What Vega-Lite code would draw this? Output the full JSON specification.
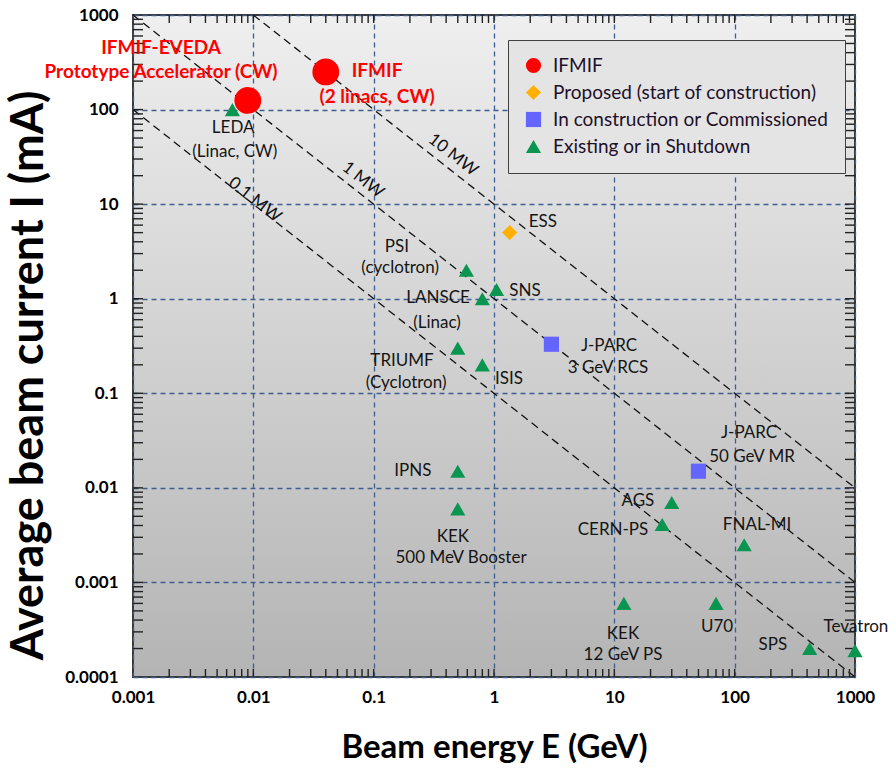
{
  "$schema": "https://vega.github.io/schema/vega-lite/v6.json",
  "width": 722,
  "height": 662,
  "autosize": {"type": "none"},
  "padding": {"left": 133, "top": 15, "right": 41, "bottom": 97},
  "background": "white",
  "config": {
    "font": "Lato",
    "view": {
      "fill": {"gradient": "linear", "x1": 0, "y1": 0, "x2": 0, "y2": 1,
        "stops": [{"offset": 0, "color": "#efefef"}, {"offset": 1, "color": "#b4b4b4"}]},
      "stroke": "#3a3a3a",
      "strokeWidth": 2
    }
  },
  "datasets": {
    "power": [
      {"P": "0.1 MW", "E": 0.001, "I": 100}, {"P": "0.1 MW", "E": 1000, "I": 0.0001},
      {"P": "1 MW", "E": 0.001, "I": 1000}, {"P": "1 MW", "E": 1000, "I": 0.001},
      {"P": "10 MW", "E": 0.01, "I": 1000}, {"P": "10 MW", "E": 1000, "I": 0.01}
    ],
    "xticks": [
      {"E": 0.002}, {"E": 0.003}, {"E": 0.004}, {"E": 0.005}, {"E": 0.006}, {"E": 0.007}, {"E": 0.008}, {"E": 0.009},
      {"E": 0.02}, {"E": 0.03}, {"E": 0.04}, {"E": 0.05}, {"E": 0.06}, {"E": 0.07}, {"E": 0.08}, {"E": 0.09},
      {"E": 0.2}, {"E": 0.3}, {"E": 0.4}, {"E": 0.5}, {"E": 0.6}, {"E": 0.7}, {"E": 0.8}, {"E": 0.9},
      {"E": 2}, {"E": 3}, {"E": 4}, {"E": 5}, {"E": 6}, {"E": 7}, {"E": 8}, {"E": 9},
      {"E": 20}, {"E": 30}, {"E": 40}, {"E": 50}, {"E": 60}, {"E": 70}, {"E": 80}, {"E": 90},
      {"E": 200}, {"E": 300}, {"E": 400}, {"E": 500}, {"E": 600}, {"E": 700}, {"E": 800}, {"E": 900},
      {"E": 0.01}, {"E": 0.1}, {"E": 1}, {"E": 10}, {"E": 100}
    ],
    "yticks": [
      {"I": 0.0002}, {"I": 0.0003}, {"I": 0.0004}, {"I": 0.0005}, {"I": 0.0006}, {"I": 0.0007}, {"I": 0.0008}, {"I": 0.0009},
      {"I": 0.002}, {"I": 0.003}, {"I": 0.004}, {"I": 0.005}, {"I": 0.006}, {"I": 0.007}, {"I": 0.008}, {"I": 0.009},
      {"I": 0.02}, {"I": 0.03}, {"I": 0.04}, {"I": 0.05}, {"I": 0.06}, {"I": 0.07}, {"I": 0.08}, {"I": 0.09},
      {"I": 0.2}, {"I": 0.3}, {"I": 0.4}, {"I": 0.5}, {"I": 0.6}, {"I": 0.7}, {"I": 0.8}, {"I": 0.9},
      {"I": 2}, {"I": 3}, {"I": 4}, {"I": 5}, {"I": 6}, {"I": 7}, {"I": 8}, {"I": 9},
      {"I": 20}, {"I": 30}, {"I": 40}, {"I": 50}, {"I": 60}, {"I": 70}, {"I": 80}, {"I": 90},
      {"I": 200}, {"I": 300}, {"I": 400}, {"I": 500}, {"I": 600}, {"I": 700}, {"I": 800}, {"I": 900},
      {"I": 0.001}, {"I": 0.01}, {"I": 0.1}, {"I": 1}, {"I": 10}, {"I": 100}
    ],
    "points": [
      {"name": "IFMIF-EVEDA", "cat": "IFMIF", "E": 0.009, "I": 125},
      {"name": "IFMIF", "cat": "IFMIF", "E": 0.04, "I": 250},
      {"name": "ESS", "cat": "Proposed (start of construction)", "E": 1.35, "I": 5},
      {"name": "J-PARC 3 GeV RCS", "cat": "In construction or Commissioned", "E": 3, "I": 0.33},
      {"name": "J-PARC 50 GeV MR", "cat": "In construction or Commissioned", "E": 50, "I": 0.015},
      {"name": "LEDA", "cat": "Existing or in Shutdown", "E": 0.0067, "I": 100},
      {"name": "PSI", "cat": "Existing or in Shutdown", "E": 0.59, "I": 2},
      {"name": "SNS", "cat": "Existing or in Shutdown", "E": 1.05, "I": 1.25},
      {"name": "LANSCE", "cat": "Existing or in Shutdown", "E": 0.8, "I": 1.0},
      {"name": "TRIUMF", "cat": "Existing or in Shutdown", "E": 0.5, "I": 0.3},
      {"name": "ISIS", "cat": "Existing or in Shutdown", "E": 0.8, "I": 0.2},
      {"name": "IPNS", "cat": "Existing or in Shutdown", "E": 0.5, "I": 0.015},
      {"name": "KEK 500 MeV Booster", "cat": "Existing or in Shutdown", "E": 0.5, "I": 0.006},
      {"name": "AGS", "cat": "Existing or in Shutdown", "E": 30, "I": 0.007},
      {"name": "CERN-PS", "cat": "Existing or in Shutdown", "E": 25, "I": 0.0041},
      {"name": "FNAL-MI", "cat": "Existing or in Shutdown", "E": 120, "I": 0.0025},
      {"name": "KEK 12 GeV PS", "cat": "Existing or in Shutdown", "E": 12, "I": 0.0006},
      {"name": "U70", "cat": "Existing or in Shutdown", "E": 70, "I": 0.0006},
      {"name": "SPS", "cat": "Existing or in Shutdown", "E": 420, "I": 0.0002},
      {"name": "Tevatron", "cat": "Existing or in Shutdown", "E": 1000, "I": 0.00019}
    ],
    "labels": [
      {"text": "LEDA", "E": 0.0068, "I": 63.8},
      {"text": "(Linac, CW)", "E": 0.0070, "I": 35.6},
      {"text": "PSI", "E": 0.156, "I": 3.52},
      {"text": "(cyclotron)", "E": 0.166, "I": 2.11},
      {"text": "ESS", "E": 2.55, "I": 6.47},
      {"text": "SNS", "E": 1.81, "I": 1.21},
      {"text": "LANSCE", "E": 0.343, "I": 1.02},
      {"text": "(Linac)", "E": 0.336, "I": 0.553},
      {"text": "J-PARC", "E": 9.03, "I": 0.316},
      {"text": "3 GeV RCS", "E": 8.86, "I": 0.185},
      {"text": "TRIUMF", "E": 0.172, "I": 0.219},
      {"text": "(Cyclotron)", "E": 0.186, "I": 0.1285},
      {"text": "ISIS", "E": 1.33, "I": 0.1416},
      {"text": "IPNS", "E": 0.212, "I": 0.01507},
      {"text": "KEK", "E": 0.456, "I": 0.00302},
      {"text": "500 MeV Booster", "E": 0.532, "I": 0.00181},
      {"text": "J-PARC", "E": 131.6, "I": 0.038},
      {"text": "50 GeV MR", "E": 139.4, "I": 0.0212},
      {"text": "AGS", "E": 15.7, "I": 0.00726},
      {"text": "CERN-PS", "E": 9.75, "I": 0.00358},
      {"text": "FNAL-MI", "E": 153.5, "I": 0.00405},
      {"text": "KEK", "E": 11.8, "I": 0.000285},
      {"text": "12 GeV PS", "E": 11.8, "I": 0.000171},
      {"text": "U70", "E": 71.3, "I": 0.000338},
      {"text": "SPS", "E": 208, "I": 0.000218},
      {"text": "Tevatron", "E": 1019, "I": 0.000338}
    ],
    "redlabels": [
      {"text": "IFMIF-EVEDA", "E": 0.00171, "I": 448},
      {"text": "Prototype Accelerator (CW)", "E": 0.00171, "I": 249},
      {"text": "IFMIF", "E": 0.1067, "I": 256},
      {"text": "(2 linacs, CW)", "E": 0.1067, "I": 136}
    ],
    "powerlabels": [
      {"text": "0.1 MW", "E": 0.0103, "I": 11.1},
      {"text": "1 MW", "E": 0.0815, "I": 18.0},
      {"text": "10 MW", "E": 0.456, "I": 33.1}
    ]
  },
  "layer": [
    {
      "data": {"name": "power"},
      "mark": {"type": "line", "color": "#111111", "strokeWidth": 1.3, "strokeDash": [8, 5]},
      "encoding": {
        "x": {"field": "E", "type": "quantitative",
          "scale": {"type": "log", "domain": [0.001, 1000], "nice": false},
          "axis": {"orient": "bottom", "values": [0.001, 0.01, 0.1, 1, 10, 100, 1000], "format": "~g",
            "grid": true, "gridColor": "#3d5f8f", "gridDash": [5, 4], "gridWidth": 1.3, "gridOpacity": 1,
            "ticks": false, "tickSize": 0, "domain": false,
            "labelFontSize": 17, "labelFontWeight": "bold", "labelColor": "#000000", "labelPadding": 12,
            "labelFlush": false, "labelBound": false, "labelOverlap": false,
            "title": "Beam energy E (GeV)", "titleFontSize": 33, "titleFontWeight": "bold", "titleColor": "#000000",
            "titleY": 80, "titleBaseline": "alphabetic"}},
        "y": {"field": "I", "type": "quantitative",
          "scale": {"type": "log", "domain": [0.0001, 1000], "nice": false},
          "axis": {"orient": "left", "values": [0.0001, 0.001, 0.01, 0.1, 1, 10, 100, 1000], "format": "~g",
            "grid": true, "gridColor": "#3d5f8f", "gridDash": [5, 4], "gridWidth": 1.3, "gridOpacity": 1,
            "ticks": false, "tickSize": 0, "domain": false,
            "labelFontSize": 17, "labelFontWeight": "bold", "labelColor": "#000000", "labelPadding": 15,
            "labelFlush": false, "labelBound": false, "labelOverlap": false,
            "title": "Average beam current I (mA)", "titleFontSize": 45, "titleFontWeight": "bold", "titleColor": "#000000",
            "titleX": -91, "titleY": 360, "titleBaseline": "alphabetic", "titleAngle": -90}},
        "detail": {"field": "P"}
      }
    },
    {
      "data": {"name": "xticks"},
      "mark": {"type": "rule", "color": "#222222", "strokeWidth": 1.4},
      "encoding": {
        "x": {"field": "E", "type": "quantitative"},
        "y": {"datum": 0.0001, "type": "quantitative"},
        "y2": {"datum": 0.0001215}
      }
    },
    {
      "data": {"name": "xticks"},
      "mark": {"type": "rule", "color": "#222222", "strokeWidth": 1.4},
      "encoding": {
        "x": {"field": "E", "type": "quantitative"},
        "y": {"datum": 1000, "type": "quantitative"},
        "y2": {"datum": 823}
      }
    },
    {
      "data": {"name": "yticks"},
      "mark": {"type": "rule", "color": "#222222", "strokeWidth": 1.4},
      "encoding": {
        "y": {"field": "I", "type": "quantitative"},
        "x": {"datum": 0.001, "type": "quantitative"},
        "x2": {"datum": 0.001211}
      }
    },
    {
      "data": {"name": "yticks"},
      "mark": {"type": "rule", "color": "#222222", "strokeWidth": 1.4},
      "encoding": {
        "y": {"field": "I", "type": "quantitative"},
        "x": {"datum": 1000, "type": "quantitative"},
        "x2": {"datum": 825.8}
      }
    },
    {
      "data": {"name": "points"},
      "mark": {"type": "point", "filled": true, "opacity": 1},
      "encoding": {
        "x": {"field": "E", "type": "quantitative"},
        "y": {"field": "I", "type": "quantitative"},
        "color": {"field": "cat", "type": "nominal",
          "scale": {"domain": ["IFMIF", "Proposed (start of construction)", "In construction or Commissioned", "Existing or in Shutdown"],
            "range": ["#ff0000", "#ffb000", "#6464ff", "#0a9650"]},
          "legend": {"title": null, "orient": "none", "legendX": 375, "legendY": 25,
            "fillColor": "#e4e4e4", "strokeColor": "#404040", "padding": 16,
            "labelFontSize": 19, "labelColor": "#1e1028", "labelLimit": 400, "symbolSize": 230,
            "rowPadding": 7, "symbolOpacity": 1, "labelOffset": 10}},
        "shape": {"field": "cat", "type": "nominal",
          "scale": {"domain": ["IFMIF", "Proposed (start of construction)", "In construction or Commissioned", "Existing or in Shutdown"],
            "range": ["circle", "diamond", "square", "triangle-up"]},
          "legend": null},
        "size": {"condition": {"test": "datum.cat === 'IFMIF'", "value": 720}, "value": 230}
      }
    },
    {
      "data": {"name": "labels"},
      "mark": {"type": "text", "fontSize": 17, "color": "#151515", "align": "center", "baseline": "middle"},
      "encoding": {
        "x": {"field": "E", "type": "quantitative"},
        "y": {"field": "I", "type": "quantitative"},
        "text": {"field": "text"}
      }
    },
    {
      "data": {"name": "redlabels"},
      "mark": {"type": "text", "fontSize": 19, "fontWeight": "bold", "color": "#ff0000", "align": "center", "baseline": "middle"},
      "encoding": {
        "x": {"field": "E", "type": "quantitative"},
        "y": {"field": "I", "type": "quantitative"},
        "text": {"field": "text"}
      }
    },
    {
      "data": {"name": "powerlabels"},
      "mark": {"type": "text", "fontSize": 17, "color": "#111111", "align": "center", "baseline": "middle", "angle": 38},
      "encoding": {
        "x": {"field": "E", "type": "quantitative"},
        "y": {"field": "I", "type": "quantitative"},
        "text": {"field": "text"}
      }
    }
  ]
}
